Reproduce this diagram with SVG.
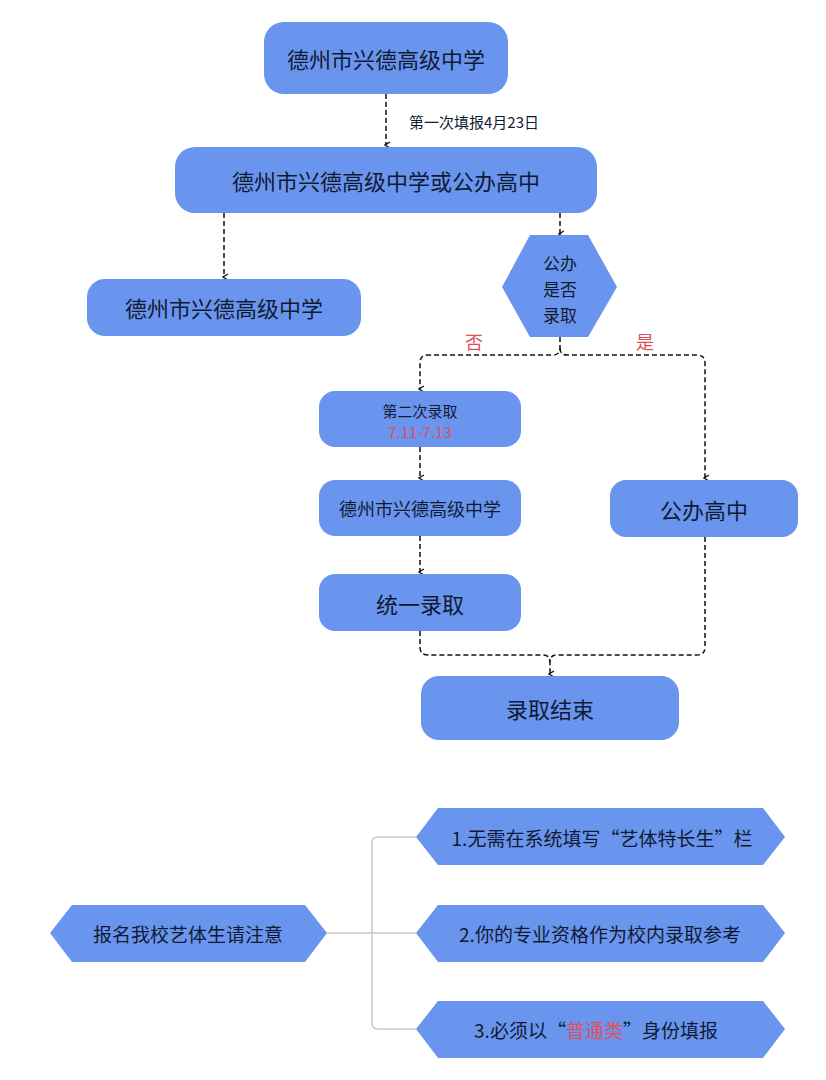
<svg xmlns="http://www.w3.org/2000/svg" width="826" height="1080" viewBox="0 0 826 1080">
<style>
.n{fill:#6a95ee}
.t{font-family:"Noto Sans CJK SC","Liberation Sans",sans-serif;fill:#111a33;text-anchor:middle;dominant-baseline:central}
.r{fill:#e0505a}
.d{fill:none;stroke:#111;stroke-width:1.5;stroke-dasharray:5,3}
.g{fill:none;stroke:#c8c8c8;stroke-width:1.5}
</style>
<defs><marker id="a" markerWidth="8" markerHeight="8" refX="4" refY="6" orient="auto-start-reverse" markerUnits="userSpaceOnUse" viewBox="0 0 8 8"><path d="M1,2 L4,7 L7,2" fill="none" stroke="#111" stroke-width="1.3"/></marker></defs>
<rect width="826" height="1080" fill="#fff"/>
<g id="connectors">
<path class="d" d="M386,94 V145" marker-end="url(#a)"/>
<path class="d" d="M224,213 V277" marker-end="url(#a)"/>
<path class="d" d="M560,213 V234" marker-end="url(#a)"/>
<path class="d" d="M560,337 V348 Q560,355 553,355 H428 Q420,355 420,363 V389" marker-end="url(#a)"/>
<path class="d" d="M560,348 Q560,355 567,355 H697 Q705,355 705,363 V478" marker-end="url(#a)"/>
<path class="d" d="M420,447 V478" marker-end="url(#a)"/>
<path class="d" d="M420,536 V572" marker-end="url(#a)"/>
<path class="d" d="M420,631 V647 Q420,655 428,655 H543 Q550,655 550,662"/>
<path class="d" d="M705,537 V647 Q705,655 697,655 H557 Q550,655 550,662 V674" marker-end="url(#a)"/>
<path class="g" d="M327,933 H416 M416,837 H378 Q372,837 372,843 V1023 Q372,1029 378,1029 H416"/>
</g>
<text class="t" x="474" y="121" font-size="15" style="text-anchor:middle">第一次填报4月23日</text>
<text class="t r" x="474" y="341" font-size="18">否</text>
<text class="t r" x="645" y="341" font-size="18">是</text>
<g id="n1"><rect class="n" x="264" y="22" width="244" height="72" rx="20"/><text class="t" x="386" y="58" font-size="22">德州市兴德高级中学</text></g>
<g id="n2"><rect class="n" x="175" y="147" width="422" height="66" rx="20"/><text class="t" x="386" y="180" font-size="22">德州市兴德高级中学或公办高中</text></g>
<g id="n3"><rect class="n" x="87" y="279" width="274" height="57" rx="18"/><text class="t" x="224" y="307" font-size="22">德州市兴德高级中学</text></g>
<g id="n4"><polygon class="n" points="530,235 588,235 617,287 588,337 530,337 502,287"/><text class="t" x="560" y="262" font-size="17">公办</text><text class="t" x="560" y="288" font-size="17">是否</text><text class="t" x="560" y="314" font-size="17">录取</text></g>
<g id="n5"><rect class="n" x="319" y="391" width="202" height="56" rx="16"/><text class="t" x="420" y="410" font-size="15">第二次录取</text><text class="t r" x="420" y="431" font-size="15">7.11-7.13</text></g>
<g id="n6"><rect class="n" x="319" y="480" width="202" height="56" rx="16"/><text class="t" x="420" y="508" font-size="18">德州市兴德高级中学</text></g>
<g id="n7"><rect class="n" x="319" y="574" width="202" height="57" rx="16"/><text class="t" x="420" y="603" font-size="22">统一录取</text></g>
<g id="n8"><rect class="n" x="610" y="480" width="188" height="57" rx="16"/><text class="t" x="704" y="509" font-size="22">公办高中</text></g>
<g id="n9"><rect class="n" x="421" y="676" width="258" height="64" rx="18"/><text class="t" x="550" y="708" font-size="22">录取结束</text></g>
<g id="n10"><polygon class="n" points="72,905 305,905 327,933 305,962 72,962 50,933"/><text class="t" x="188" y="933" font-size="19">报名我校艺体生请注意</text></g>
<g id="n11"><polygon class="n" points="438,808 763,808 785,837 763,865 438,865 416,837"/><text class="t" x="602" y="837" font-size="19">1.无需在系统填写“艺体特长生”栏</text></g>
<g id="n12"><polygon class="n" points="438,905 763,905 785,933 763,962 438,962 416,933"/><text class="t" x="600" y="933" font-size="19">2.你的专业资格作为校内录取参考</text></g>
<g id="n13"><polygon class="n" points="438,1001 763,1001 785,1029 763,1058 438,1058 416,1029"/><text class="t" x="596" y="1029" font-size="19">3.必须以“<tspan class="r">普通类</tspan>”身份填报</text></g>
</svg>
